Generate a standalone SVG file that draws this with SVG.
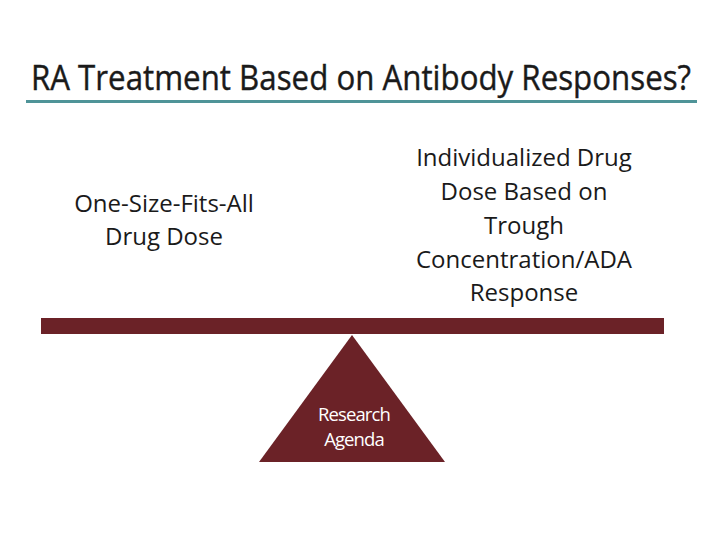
<svg xmlns="http://www.w3.org/2000/svg" width="720" height="540" viewBox="0 0 720 540">
<style>
.t{font-family:"Open Sans","Noto Sans",sans-serif;fill:#1a1a1a;text-anchor:middle}
.lbl{font-size:24px}
.w{font-family:"Open Sans","Noto Sans",sans-serif;fill:#ffffff;text-anchor:middle;font-size:18.5px;letter-spacing:-0.9px}
</style>
<rect width="720" height="540" fill="#ffffff"/>
<g id="title">
<text class="t" transform="translate(361,90) scale(0.92,1)" x="0" y="0" font-size="34" font-weight="500" stroke="#1a1a1a" stroke-width="0.4">RA Treatment Based on Antibody Responses?</text>
<rect x="26" y="100" width="671" height="3" fill="#4f9498"/>
</g>
<g id="left-label">
<text class="t lbl" x="164" y="212">One-Size-Fits-All</text>
<text class="t lbl" x="164" y="245">Drug Dose</text>
</g>
<g id="right-label">
<text class="t lbl" x="524" y="166">Individualized Drug</text>
<text class="t lbl" x="524" y="200">Dose Based on</text>
<text class="t lbl" x="524" y="234">Trough</text>
<text class="t lbl" x="524" y="268">Concentration/ADA</text>
<text class="t lbl" x="524" y="301">Response</text>
</g>
<g id="beam">
<rect x="41" y="318" width="623" height="16" fill="#6b2227"/>
</g>
<g id="fulcrum">
<polygon points="352,335 445,462 259,462" fill="#6b2227"/>
<text class="w" x="354" y="421">Research</text>
<text class="w" x="354" y="446">Agenda</text>
</g>
<g id="connectors"/>
</svg>
